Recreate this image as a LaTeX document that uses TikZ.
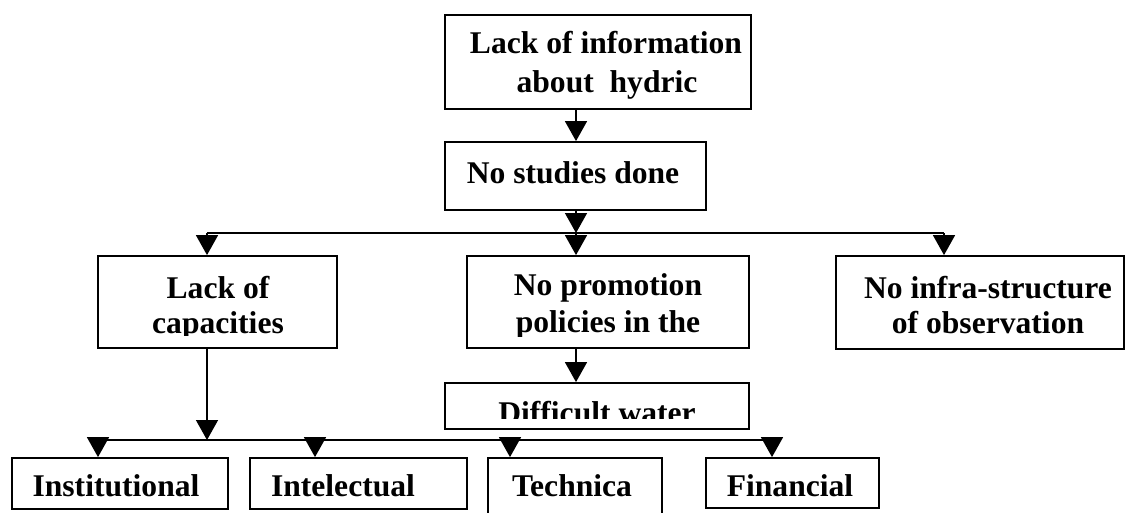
\documentclass[tikz,border=0pt]{standalone}
\usepackage{fontspec}
\setmainfont{Liberation Serif}
\usetikzlibrary{arrows.meta}
\tikzset{
  box/.style={draw, line width=1.8pt, inner sep=0pt, minimum width=#1},
  txt/.style={font=\bfseries\fontsize{31.6}{36}\selectfont, inner sep=0pt, anchor=base},
  ln/.style={line width=1.5pt},
  arr/.style={line width=1.5pt, -{Triangle[width=22pt,length=20pt]}}
}
\begin{document}
\begin{tikzpicture}[x=1pt,y=-1pt]
\useasboundingbox (0,0) rectangle (1126,512);
% boxes
\node[box=306pt, minimum height=94pt] (top) at (598,62) {};
\node[box=261pt, minimum height=68pt] (studies) at (575.5,176) {};
\node[box=239pt, minimum height=92pt] (cap) at (217.5,302) {};
\node[box=282pt, minimum height=92pt] (prom) at (608,302) {};
\node[box=288pt, minimum height=93pt] (infra) at (980,302.5) {};
\node[box=304pt, minimum height=46pt] (water) at (597,406) {};
\node[box=216pt, minimum height=51pt] (inst) at (120,483.5) {};
\node[box=217pt, minimum height=51pt] (intel) at (358.5,483.5) {};
\node[box=174pt, minimum height=82pt] (tech) at (575,499) {};
\node[box=173pt, minimum height=50pt] (fin) at (792.5,483) {};
% texts
\node[txt] (t1a) at (606,53) {Lack of information};
\node[txt] (t1b) at (607,92) {about\ \ hydric};
\node[txt] (t2) at (573,183) {No studies done};
\begin{scope}
  \clip (90,250) rectangle (345,335);
  \node[txt] (t3a) at (218,298) {Lack of};
  \node[txt] (t3b) at (218,333) {capacities};
\end{scope}
\begin{scope}
  \clip (460,250) rectangle (755,336);
  \node[txt] (t4a) at (608,295) {No promotion};
  \node[txt] (t4b) at (608,332) {policies in the};
\end{scope}
\node[txt] (t5a) at (988,298) {No infra-structure};
\node[txt] (t5b) at (988,333) {of observation};
\begin{scope}
  \clip (440,385) rectangle (755,418);
  \node[txt] (t6) at (597,423) {Difficult water};
\end{scope}
\node[txt] (t7) at (116,496) {Institutional};
\node[txt] (t8) at (343,496) {Intelectual};
\node[txt] (t9) at (572,496) {Technica};
\node[txt] (t10) at (790,496) {Financial};
% junctions
\coordinate (aL) at (207,233);
\coordinate (aM) at (576,233);
\coordinate (aR) at (944,233);
\coordinate (bJ) at (207,440);
\coordinate (b1) at (98,440);
\coordinate (b2) at (315,440);
\coordinate (b3) at (510,440);
\coordinate (b4) at (772,440);
% connectors
\draw[arr] (top.south -| aM) -- (studies.north -| aM);
\draw[arr] (studies.south -| aM) -- (aM);
\draw[ln] (aL) -- (aR);
\draw[arr] (aL) -- (cap.north -| aL);
\draw[arr] (aM) -- (prom.north -| aM);
\draw[arr] (aR) -- (infra.north -| aR);
\draw[arr] (prom.south -| aM) -- (water.north -| aM);
\draw[arr] (cap.south -| bJ) -- (bJ);
\draw[ln] (b1) -- (b4);
\draw[arr] (b1) -- (inst.north -| b1);
\draw[arr] (b2) -- (intel.north -| b2);
\draw[arr] (b3) -- (tech.north -| b3);
\draw[arr] (b4) -- (fin.north -| b4);
\end{tikzpicture}
\end{document}
